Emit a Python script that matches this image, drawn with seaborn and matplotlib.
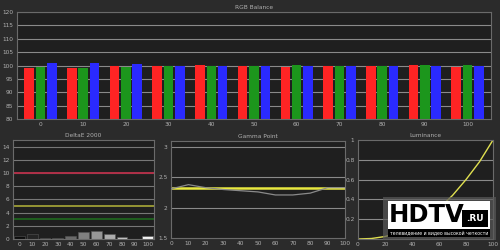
import matplotlib
matplotlib.use("Agg")
import matplotlib.pyplot as plt
import seaborn as sns
import pandas as pd
import numpy as np
from matplotlib.patches import Rectangle

# ---- data ----
levels = [0, 10, 20, 30, 40, 50, 60, 70, 80, 90, 100]
red_vals = [99.0, 99.2, 99.9, 100.0, 100.1, 100.0, 99.6, 100.0, 100.0, 100.2, 99.3]
green_vals = [99.5, 99.2, 99.5, 99.9, 100.0, 100.0, 100.1, 100.0, 99.8, 100.1, 100.1]
blue_vals = [101.0, 100.8, 100.4, 99.8, 99.9, 100.0, 100.0, 100.0, 100.0, 100.0, 99.9]

deltae_vals = [0.5, 0.8, 0.1, 0.1, 0.4, 1.0, 1.2, 0.7, 0.3, 0.05, 0.4]

gamma_x = [0, 10, 20, 30, 40, 50, 60, 70, 80, 90, 100]
gamma_meas = [2.31, 2.38, 2.33, 2.30, 2.28, 2.26, 2.21, 2.21, 2.24, 2.33, 2.33]
gamma_target = [2.32, 2.32]

lum_x = [0, 10, 20, 30, 40, 50, 60, 70, 80, 90, 100]
lum_vals = [0.0, 0.005, 0.025, 0.062, 0.12, 0.2, 0.31, 0.44, 0.6, 0.78, 1.0]

# ---- style ----
BG = "#2b2b2b"
AXBG = "#1f1f1f"
GRID = "#8a8a8a"
TXT = "#b0b0b0"
FS = 4.2

sns.set_theme(style="dark")
plt.rcParams["font.family"] = ["DejaVu Sans"]

fig = plt.figure(figsize=(5, 2.5), dpi=100, facecolor=BG)


def style_ax(ax, title):
    ax.set_facecolor(AXBG)
    for s in ax.spines.values():
        s.set_color("#6a6a6a")
        s.set_linewidth(0.8)
    ax.tick_params(colors=TXT, labelsize=FS, length=1.5, width=0.5, pad=1)
    ax.set_xlabel("")
    ax.set_ylabel("")
    ax.set_title(title, color=TXT, fontsize=FS, pad=2)


# ---- RGB Balance ----
ax1 = fig.add_axes([0.034, 0.524, 0.948, 0.428])
df = pd.DataFrame({
    "level": [str(l) for l in levels] * 3,
    "value": red_vals + green_vals + blue_vals,
    "ch": ["R"] * len(levels) + ["G"] * len(levels) + ["B"] * len(levels),
})
for yv in range(85, 121, 5):
    ax1.axhline(yv, color=GRID, lw=0.8, zorder=0)
sns.barplot(data=df, x="level", y="value", hue="ch", ax=ax1,
            palette={"R": "#ff2424", "G": "#1c961c", "B": "#2a2aff"},
            width=0.8, gap=0.16, legend=False, zorder=2, saturation=1,
            edgecolor="none", linewidth=0)
ax1.set_ylim(80, 120)
ax1.set_yticks(range(80, 121, 5))
ax1.set_xlim(-0.55, len(levels) - 0.45)
style_ax(ax1, "RGB Balance")

# ---- DeltaE 2000 ----
ax2 = fig.add_axes([0.026, 0.044, 0.282, 0.396])
for yv in range(2, 15, 2):
    ax2.axhline(yv, color="#777777", lw=0.8, zorder=0)
ax2.axhline(10, color="#b03048", lw=1.4, zorder=1)
ax2.axhline(5, color="#a8a838", lw=1.2, zorder=1)
ax2.axhline(3, color="#1e6a1e", lw=1.2, zorder=1)
grays = [matplotlib.colors.to_hex((0.05 + 0.9 * l / 100,) * 3) for l in levels]
dfe = pd.DataFrame({"level": [str(l) for l in levels], "de": deltae_vals})
sns.barplot(data=dfe, x="level", y="de", hue="level", palette=grays,
            ax=ax2, width=0.85, legend=False, zorder=2, saturation=1,
            edgecolor="#555555", linewidth=0.4)
ax2.set_ylim(0, 15)
ax2.set_yticks(range(0, 15, 2))
style_ax(ax2, "DeltaE 2000")

# ---- Gamma Point ----
ax3 = fig.add_axes([0.342, 0.048, 0.348, 0.388])
for yv in [2.0, 2.5, 3.0]:
    ax3.axhline(yv, color=GRID, lw=0.8, zorder=0)
sns.lineplot(x=[0, 100], y=gamma_target, ax=ax3, color="#e8e840", lw=1.8, zorder=2)
sns.lineplot(x=gamma_x, y=gamma_meas, ax=ax3, color="#8a8a8a", lw=0.9, zorder=3)
ax3.set_xlim(0, 100)
ax3.set_ylim(1.5, 3.1)
ax3.set_xticks(range(0, 101, 10))
ax3.set_yticks([1.5, 2, 2.5, 3])
ax3.set_yticklabels(["1.5", "2", "2.5", "3"])
style_ax(ax3, "Gamma Point")

# ---- Luminance ----
ax4 = fig.add_axes([0.716, 0.044, 0.27, 0.396])
for yv in [0.2, 0.4, 0.6, 0.8]:
    ax4.axhline(yv, color=GRID, lw=0.8, zorder=0)
sns.lineplot(x=lum_x, y=lum_vals, ax=ax4, color="#e0e050", lw=1.0, zorder=2)
ax4.set_xlim(0, 100)
ax4.set_ylim(0, 1)
ax4.set_xticks(range(0, 101, 20))
ax4.set_yticks([0.2, 0.4, 0.6, 0.8, 1])
ax4.set_yticklabels(["0.2", "0.4", "0.6", "0.8", "1"])
style_ax(ax4, "Luminance")

# ---- watermark ----
fig.patches.append(Rectangle((0.766, 0.04), 0.226, 0.172, transform=fig.transFigure,
                             facecolor="#5a5a5a", alpha=0.7, edgecolor="none", zorder=5))
fig.patches.append(Rectangle((0.776, 0.084), 0.204, 0.112, transform=fig.transFigure,
                             facecolor="white", edgecolor="none", zorder=6))
fig.patches.append(Rectangle((0.776, 0.052), 0.204, 0.034, transform=fig.transFigure,
                             facecolor="black", edgecolor="none", zorder=6))
fig.patches.append(Rectangle((0.924, 0.094), 0.052, 0.066, transform=fig.transFigure,
                             facecolor="black", edgecolor="none", zorder=7))
fig.text(0.778, 0.142, "HDTV", fontsize=17.5, fontweight="bold", color="black",
         va="center", ha="left", zorder=8, family="Liberation Sans Narrow")
fig.text(0.950, 0.127, ".RU", fontsize=6.5, fontweight="bold", color="white",
         va="center", ha="center", zorder=8)
fig.text(0.878, 0.069, "телевидение и видео высокой четкости", fontsize=3.3,
         color="white", va="center", ha="center", zorder=8)

fig.savefig("out.png", dpi=100, facecolor=BG)
